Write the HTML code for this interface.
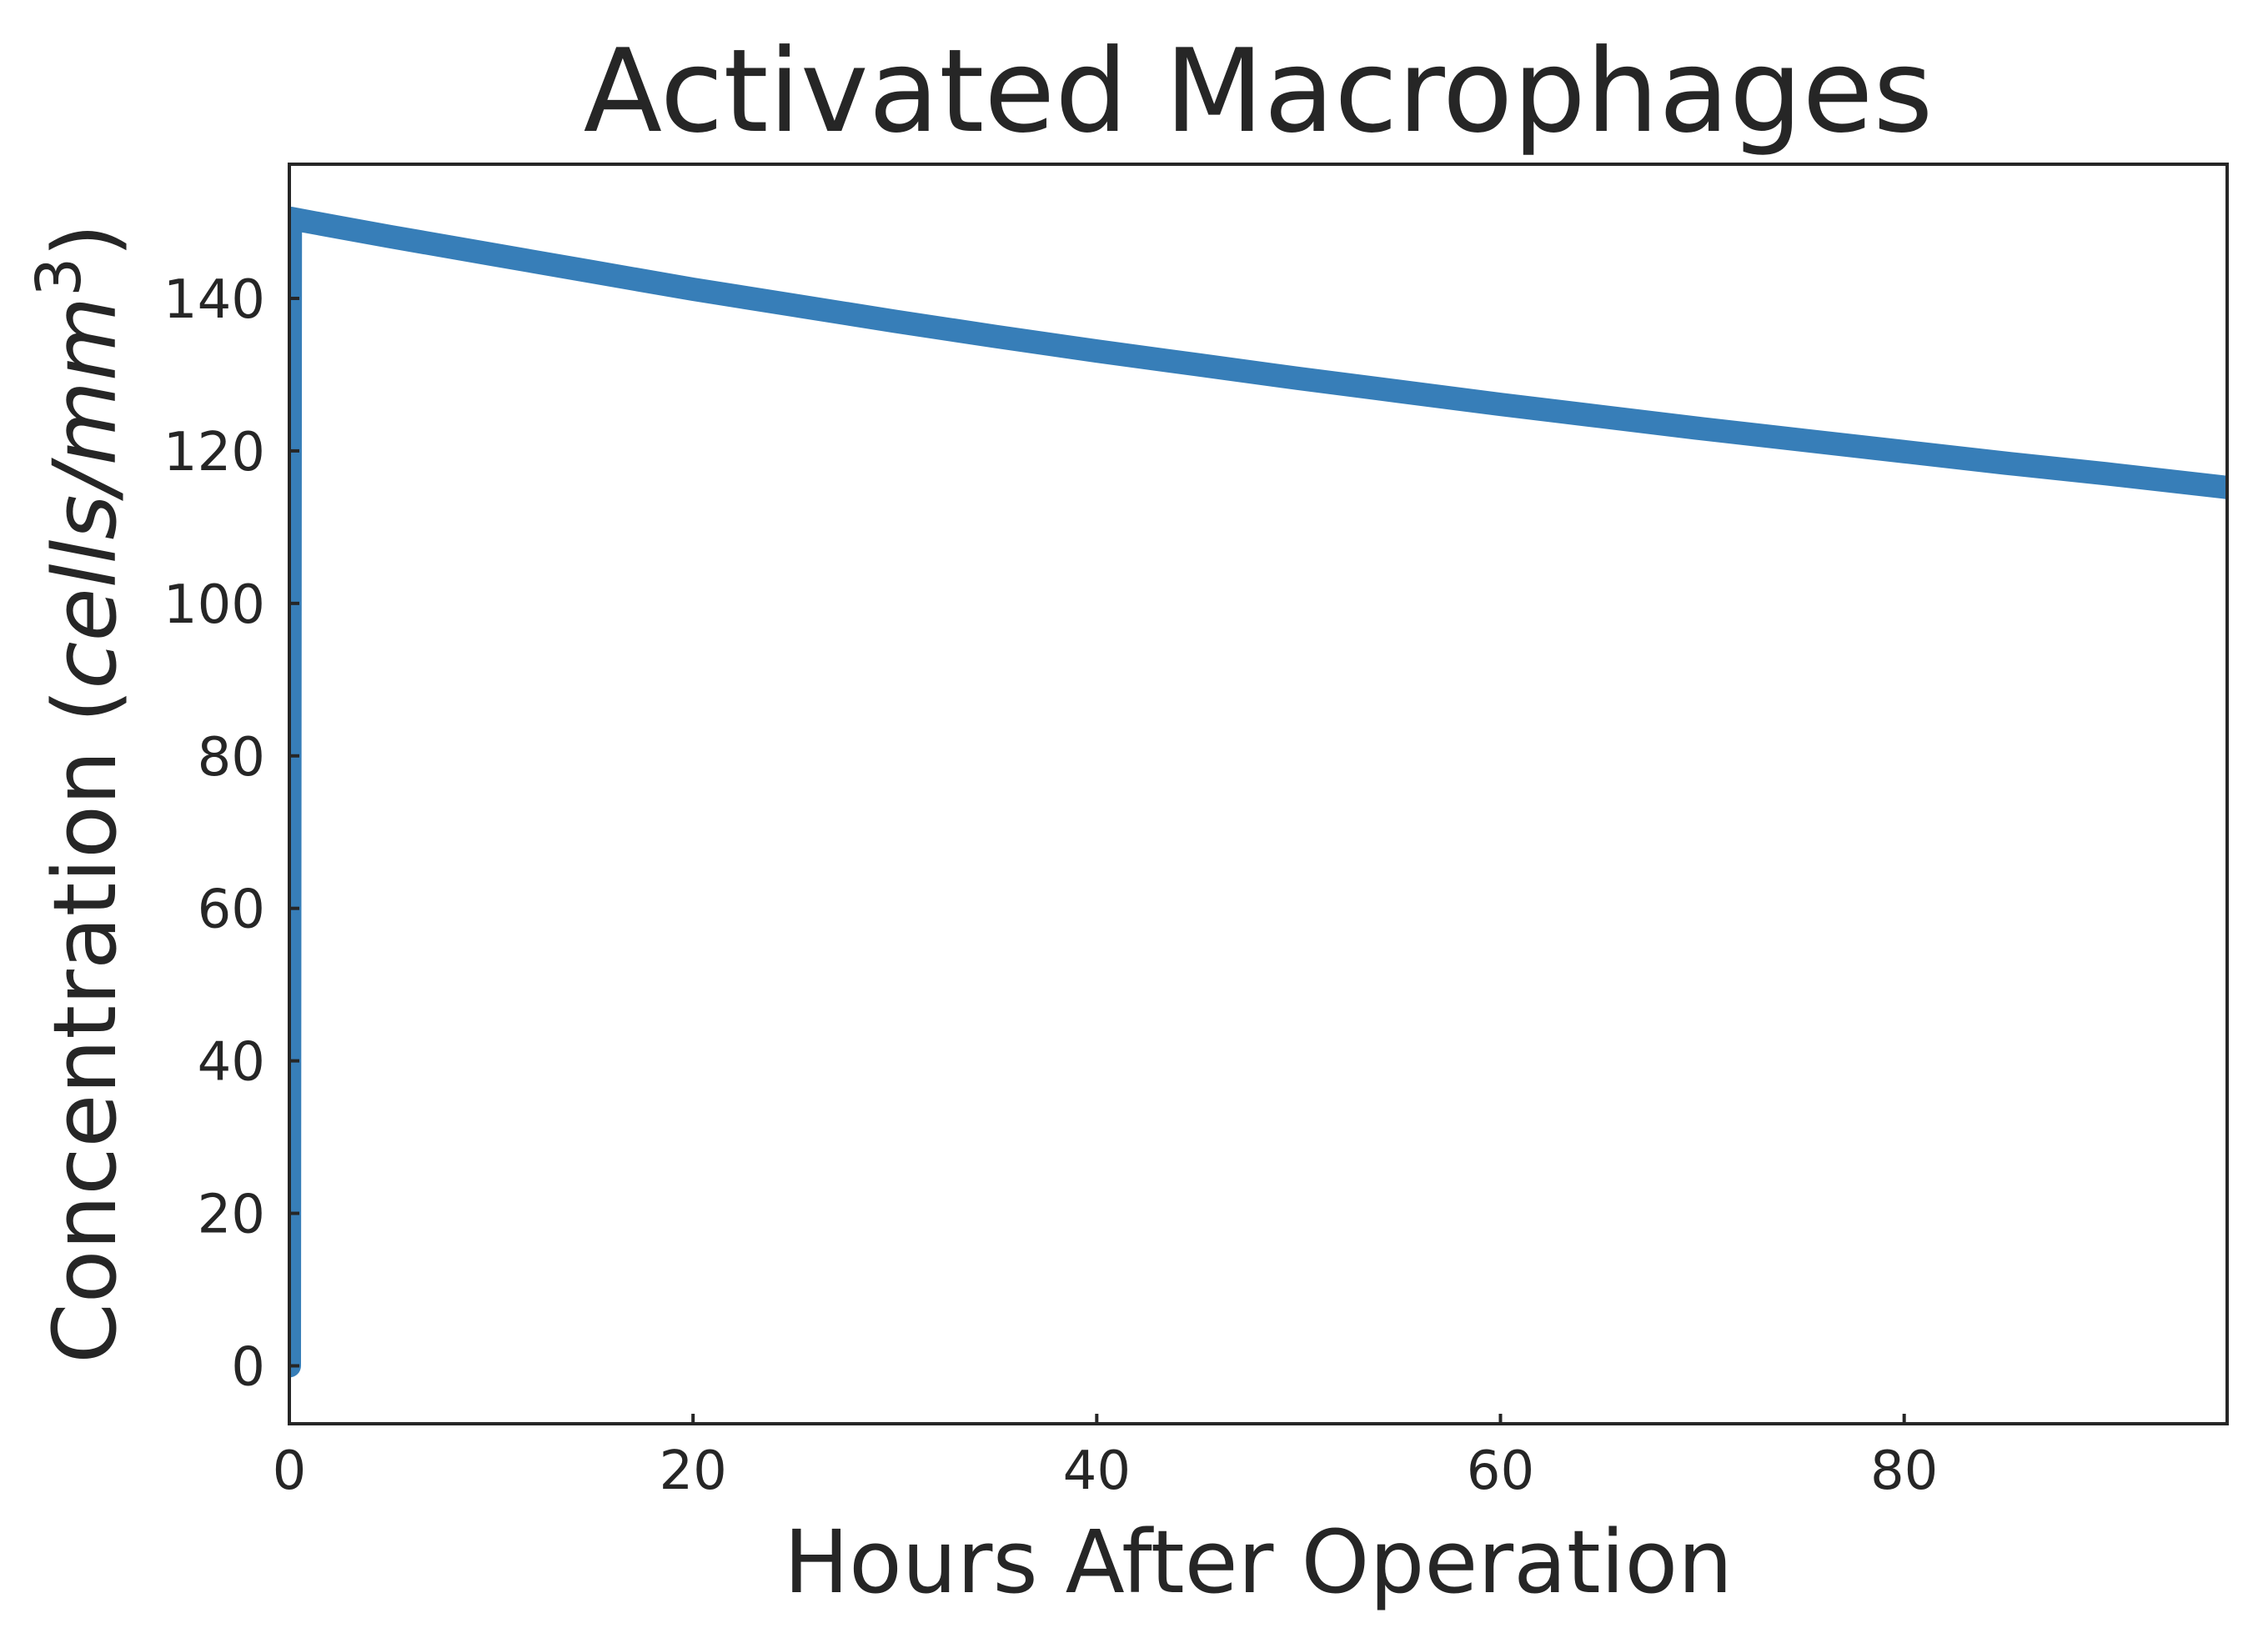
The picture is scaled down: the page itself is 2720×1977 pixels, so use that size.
<!DOCTYPE html>
<html><head><meta charset="utf-8"><style>
html,body{margin:0;padding:0;background:#fff;}
svg{display:block;}
text{font-family:"DejaVu Sans","Liberation Sans",sans-serif;fill:#262626;}
</style></head><body>
<svg id="chart" width="2720" height="1977" viewBox="0 0 2720 1977" xmlns="http://www.w3.org/2000/svg">
<rect x="0" y="0" width="2720" height="1977" fill="#fff"/>
<text x="1509" y="157" font-size="138" text-anchor="middle">Activated Macrophages</text>
<g id="plot"></g>
<text x="1509" y="1910" font-size="104" text-anchor="middle">Hours After Operation</text>
<text transform="translate(138,952) rotate(-90)" font-size="104" text-anchor="middle">Concentration (<tspan font-style="italic">cells/mm</tspan><tspan font-size="74" dy="-42">3</tspan><tspan dy="42">)</tspan></text>
</svg>
<script>
const hours = [0, 0.05, 2.5, 5, 10, 15, 20, 25, 30, 35, 40, 45, 50, 55, 60, 65, 70, 75, 80, 85, 90, 96];
const concentration = [0, 150.5, 149.3, 148.1, 145.8, 143.5, 141.2, 139.1, 137.0, 135.0, 133.1, 131.3, 129.5, 127.8, 126.1, 124.5, 122.9, 121.4, 119.9, 118.4, 117.0, 115.2];
const xTicks = [0, 20, 40, 60, 80];
const yTicks = [0, 20, 40, 60, 80, 100, 120, 140];
const xDomain = [0, 96];
const yDomain = [-7.6, 157.6];

const L = 347, R = 2671, T = 197, B = 1708;
const NS = 'http://www.w3.org/2000/svg';
function xs(v){ return L + (v - xDomain[0]) / (xDomain[1] - xDomain[0]) * (R - L); }
function ys(v){ return B - (v - yDomain[0]) / (yDomain[1] - yDomain[0]) * (B - T); }
const g = document.getElementById('plot');
function mk(tag, attrs){ const e = document.createElementNS(NS, tag); for (const k in attrs) e.setAttribute(k, attrs[k]); g.appendChild(e); return e; }

const clip = document.createElementNS(NS, 'clipPath');
clip.setAttribute('id', 'clip');
const cr = document.createElementNS(NS, 'rect');
cr.setAttribute('x', L); cr.setAttribute('y', T); cr.setAttribute('width', R - L); cr.setAttribute('height', B - T);
clip.appendChild(cr); g.appendChild(clip);

let d = '';
hours.forEach((h, i) => { d += (i ? 'L' : 'M') + xs(h).toFixed(2) + ',' + ys(concentration[i]).toFixed(2); });
const line = mk('path', {d: d, fill: 'none', stroke: '#377eb8', 'stroke-width': 28, 'stroke-linejoin': 'round', 'stroke-linecap': 'round', 'clip-path': 'url(#clip)'});



xTicks.forEach(t => {
  const tk = mk('line', {x1: xs(t), x2: xs(t), y1: B, y2: B - 12, stroke: '#262626', 'stroke-width': 4});
  
  
  const lb = mk('text', {x: xs(t), y: 1786, 'font-size': 64, 'text-anchor': 'middle'});
  lb.textContent = t;
  
  
});
yTicks.forEach(t => {
  const tk = mk('line', {x1: L, x2: L + 12, y1: ys(t), y2: ys(t), stroke: '#262626', 'stroke-width': 4});
  
  
  const lb = mk('text', {x: 318, y: ys(t) + 23, 'font-size': 64, 'text-anchor': 'end'});
  lb.textContent = t;
  
  
});
const frame = mk('rect', {x: L, y: T, width: R - L, height: B - T, fill: 'none', stroke: '#262626', 'stroke-width': 4});


</script>
</body></html>
